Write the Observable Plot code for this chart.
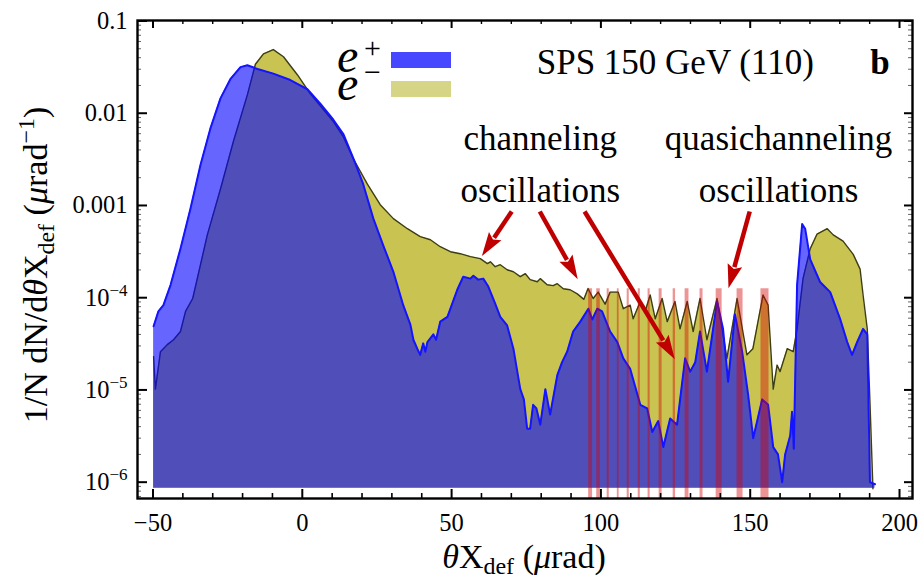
<!DOCTYPE html>
<html><head><meta charset="utf-8">
<script src="https://cdn.jsdelivr.net/npm/d3@7"></script>
<script src="https://cdn.jsdelivr.net/npm/@observablehq/plot@0.6"></script>
<style>body{margin:0;background:#fff}#chart{position:relative;width:918px;height:581px}</style>
</head><body><div id="chart"></div>
<script>
// e+ (positrons) distribution: angle (µrad) and 1/N dN/dθ (µrad^-1)
const ePosX = [-49.8,-48.2,-46.5,-44.1,-40.8,-37.5,-34.1,-30.8,-27.4,-24.1,-20.7,-18.4,-15.0,-9.7,-4.0,1.7,6.1,10.4,13.8,17.1,20.4,23.8,27.1,30.5,33.8,36.2,37.2,38.5,39.5,40.5,41.2,41.9,43.9,44.8,46.2,48.6,51.9,53.9,56.3,57.3,58.9,60.6,62.3,64.6,66.3,68.6,70.7,73.0,74.2,75.3,76.3,77.3,78.4,79.7,81.4,83.0,85.4,87.0,88.7,90.7,93.1,95.8,97.1,98.8,100.4,103.1,105.5,107.5,109.8,113.2,115.5,117.2,119.2,120.9,123.2,125.5,128.2,129.9,131.6,133.2,135.5,138.9,140.9,142.6,144.9,147.3,149.3,151.0,154.0,156.0,157.7,159.3,160.7,161.7,163.4,164.0,164.6,165.7,167.4,168.4,170.1,173.4,176.8,180.1,182.5,184.1,185.8,187.8,189.2,190.1,191.8];
const ePosY = [4.9e-5,7.1e-5,8.3e-5,1.38e-4,3.4e-4,9.1e-4,2.75e-3,6.8e-3,1.45e-2,2.34e-2,3.16e-2,3.31e-2,3.02e-2,2.69e-2,2.29e-2,1.82e-2,1.26e-2,8.5e-3,5.9e-3,3.24e-3,1.70e-3,7.2e-4,3.7e-4,1.91e-4,8.3e-5,5.1e-5,3.5e-5,2.8e-5,2.4e-5,3.2e-5,2.6e-5,3.3e-5,4.0e-5,3.5e-5,5.5e-5,6.2e-5,1.22e-4,1.69e-4,1.61e-4,1.73e-4,1.57e-4,1.61e-4,1.32e-4,8.6e-5,6.2e-5,5.0e-5,2.8e-5,1.02e-5,7.9e-6,3.8e-6,3.8e-6,6.9e-6,6.3e-6,4.2e-6,1.02e-5,5.4e-6,1.45e-5,2.0e-5,2.6e-5,4.3e-5,5.5e-5,7.6e-5,5.8e-5,7.6e-5,7.1e-5,4.3e-5,3.3e-5,2.2e-5,1.70e-5,6.9e-6,6.3e-6,3.5e-6,4.6e-6,2.4e-6,4.9e-6,4.2e-6,2.2e-5,1.58e-5,2.0e-5,4.3e-5,1.58e-5,9.1e-5,4.6e-5,1.23e-5,6.6e-5,2.6e-5,8.9e-6,3.0e-6,7.9e-6,6.9e-6,2.4e-6,2.0e-6,1.0e-6,2.0e-6,3.2e-6,5.8e-6,2.3e-6,1.38e-4,6.3e-4,5.6e-4,2.6e-4,1.48e-4,1.15e-4,5.9e-5,3.3e-5,2.4e-5,3.3e-5,4.6e-5,4.0e-5,1.0e-6,9.5e-7];
// e- (electrons) distribution
const eNegX = [-49.8,-49.2,-47.5,-45.2,-43.1,-40.8,-39.1,-36.7,-31.8,-27.4,-23.1,-18.4,-15.7,-13.0,-9.7,-6.3,-1.6,2.7,6.1,10.4,13.8,17.1,21.8,26.1,30.5,35.2,39.5,42.9,46.2,49.6,52.9,56.3,59.6,62.0,63.0,64.6,66.3,68.6,70.7,73.0,74.7,76.3,78.7,79.7,82.0,84.0,85.4,87.4,89.7,92.1,94.3,95.7,97.4,99.1,101.4,103.1,105.8,107.5,109.8,110.8,113.2,114.8,116.5,118.2,120.5,122.2,124.8,126.5,128.9,130.9,133.2,135.5,138.9,142.2,145.6,148.9,150.9,154.3,156.0,157.7,159.0,160.0,162.4,164.4,165.7,167.7,170.1,172.4,175.8,177.8,181.1,184.5,186.8,187.8,189.2,190.1,191.1];
const eNegY = [2.3e-5,1.02e-5,2.6e-5,3.1e-5,3.5e-5,4.3e-5,7.1e-5,9.8e-5,4.8e-4,1.51e-3,4.9e-3,1.58e-2,3.4e-2,4.4e-2,4.9e-2,4.1e-2,2.6e-2,1.62e-2,1.20e-2,8.1e-3,5.5e-3,3.2e-3,1.70e-3,1.02e-3,7.2e-4,5.6e-4,4.6e-4,4.25e-4,3.57e-4,3.15e-4,3.0e-4,2.79e-4,2.65e-4,2.34e-4,2.45e-4,2.17e-4,2.28e-4,2.01e-4,1.91e-4,1.69e-4,1.82e-4,1.57e-4,1.49e-4,1.61e-4,1.38e-4,1.35e-4,1.42e-4,1.25e-4,1.22e-4,1.10e-4,9.6e-5,1.26e-4,9.8e-5,1.15e-4,8.5e-5,1.15e-4,1.15e-4,7.6e-5,8.3e-5,5.9e-5,9.1e-5,7.1e-5,1.07e-4,5.9e-5,9.8e-5,5.5e-5,9.1e-5,4.6e-5,9.1e-5,4.3e-5,9.8e-5,3.5e-5,9.8e-5,2.2e-5,9.8e-5,2.4e-5,2.8e-5,1.07e-4,8.3e-5,1.02e-5,1.86e-5,1.58e-5,2.8e-5,2.6e-5,4.6e-5,1.62e-4,3.4e-4,4.9e-4,5.6e-4,4.8e-4,4.1e-4,2.95e-4,2.04e-4,1.07e-4,4.6e-5,7.4e-6,8.5e-7];
// channeling-oscillation bands (µrad)
const bandX1 = [95.9,98.6,102.1,105.5,108.8,112.5,115.8,119.5,124.2,128.2,133.2,138.6,145.6,153.6];
const bandX2 = [97.2,99.8,102.8,106.1,109.5,113.2,116.5,120.5,125.0,129.5,134.2,140.6,147.6,156.3];
const bandTop = 1.25e-4;
const fillFloor = 8.6e-7;
// annotation arrows (tail -> tip), in data units
const arrowX1 = [70.3,79.7,94.7,150.0];
const arrowY1 = [8.5e-4,8.5e-4,8.5e-4,8.5e-4];
const arrowX2 = [60.3,92.4,124.9,142.9];
const arrowY2 = [2.79e-4,1.57e-4,2.13e-5,1.25e-4];
// text annotations
const noteText = ["SPS 150 GeV (110)","channeling","oscillations","quasichanneling","oscillations"];
const noteX = [124.9,79.7,79.7,159.5,159.5];
const noteY = [3.5e-2,5.25e-3,1.43e-3,5.25e-3,1.43e-3];
// axes
const xMajorTicks = [-50,0,50,100,150,200];
const xMinorTicks = [-40,-30,-20,-10,10,20,30,40,60,70,80,90,110,120,130,140,160,170,180,190];
const yMajorTicks = [1e-6,1e-5,1e-4,1e-3,1e-2,1e-1];
const yTickLabels = ["10^−6","10^−5","10^−4","0.001","0.01","0.1"];
const yMinorTicks = [];
for (let d = -7; d <= -2; d++) for (let m = 2; m <= 9; m++) yMinorTicks.push(m * Math.pow(10, d));

const W = 918, H = 581, mL = 137, mR = 6, mT = 20, mB = 83;
const plotW = W - mL - mR, plotH = H - mT - mB;
const yDom = [Math.pow(10, -6.177), Math.pow(10, -0.9946)];
const FONT = "'Liberation Serif','Times New Roman',serif";

const pos = ePosX.map((x, i) => ({x, y: ePosY[i]}));
const neg = eNegX.map((x, i) => ({x, y: eNegY[i]}));
const bands = bandX1.map((x1, i) => ({x1, x2: bandX2[i]}));
const arrows = arrowX1.map((x1, i) => ({x1, y1: arrowY1[i], x2: arrowX2[i], y2: arrowY2[i]}));
const notes = noteText.map((t, i) => ({t, x: noteX[i], y: noteY[i]}));
const yMinorIn = yMinorTicks.filter(v => v > yDom[0] && v < yDom[1]);

function arrowMark(index, scales) {
  const sx = typeof scales.x === "function" ? scales.x : scales.scales.x.apply;
  const sy = typeof scales.y === "function" ? scales.y : scales.scales.y.apply;
  const g = d3.create("svg:g").attr("aria-label", "arrows");
  for (const a of arrows) {
    const x1 = sx(a.x1), y1 = sy(a.y1), x2 = sx(a.x2), y2 = sy(a.y2);
    const dx = x2 - x1, dy = y2 - y1, len = Math.hypot(dx, dy), ux = dx / len, uy = dy / len;
    const hl = 24, hw = 7.5;
    const bx = x2 - ux * hl, by = y2 - uy * hl;
    g.append("line").attr("x1", x1).attr("y1", y1).attr("x2", bx + ux * 2).attr("y2", by + uy * 2)
      .attr("stroke", "#c00000").attr("stroke-width", 4.5);
    g.append("path").attr("d", `M${x2},${y2}L${bx - uy * hw},${by + ux * hw}L${bx + ux * 4},${by + uy * 4}L${bx + uy * hw},${by - ux * hw}Z`)
      .attr("fill", "#c00000");
  }
  return g.node();
}

const svg = Plot.plot({
  width: W, height: H, marginLeft: mL, marginRight: mR, marginTop: mT, marginBottom: mB,
  style: {fontFamily: FONT, fontSize: "24px", background: "white", color: "black"},
  x: {domain: [-55.19, 204.35], label: null},
  y: {type: "log", domain: yDom, label: null},
  marks: [
    Plot.areaY(neg, {x: "x", y1: fillFloor, y2: "y", fill: "#c9c452"}),
    Plot.lineY(neg, {x: "x", y: "y", stroke: "#3d3d14", strokeWidth: 1.4}),
    Plot.areaY(pos, {x: "x", y1: fillFloor, y2: "y", fill: "#0000ff", fillOpacity: 0.6}),
    Plot.lineY(pos, {x: "x", y: "y", stroke: "#1414ff", strokeWidth: 2}),
    Plot.rect(bands, {x1: "x1", x2: "x2", y1: yDom[0], y2: bandTop, fill: "#d40000", fillOpacity: 0.42}),
    arrowMark,
    Plot.text(notes.slice(0, 1), {x: "x", y: "y", text: "t", fontSize: 35, fill: "black"}),
    Plot.text(notes.slice(1), {x: "x", y: "y", text: "t", fontSize: 35, fill: "black"}),
    Plot.text(["b"], {x: 193.5, y: 3.5e-2, text: d => d, fontSize: 35, fontWeight: "bold", fill: "black"}),
    // inward frame ticks
    Plot.tickX(xMajorTicks, {x: d => d, insetTop: plotH - 9, stroke: "black", strokeWidth: 2}),
    Plot.tickX(xMinorTicks, {x: d => d, insetTop: plotH - 5, stroke: "black", strokeWidth: 1.6}),
    Plot.tickX(xMajorTicks, {x: d => d, insetBottom: plotH - 8, stroke: "black", strokeWidth: 2}),
    Plot.tickX(xMinorTicks, {x: d => d, insetBottom: plotH - 4, stroke: "black", strokeWidth: 1.4}),
    Plot.tickY(yMajorTicks, {y: d => d, insetRight: plotW - 10, stroke: "black", strokeWidth: 2}),
    Plot.tickY(yMinorIn, {y: d => d, insetRight: plotW - 4, stroke: "#666", strokeWidth: 1}),
    Plot.tickY(yMajorTicks, {y: d => d, insetLeft: plotW - 8, stroke: "black", strokeWidth: 2}),
    Plot.tickY(yMinorIn, {y: d => d, insetLeft: plotW - 4, stroke: "#666", strokeWidth: 1}),
    Plot.frame({stroke: "black", strokeWidth: 2.4}),
    Plot.axisX({ticks: xMajorTicks, tickSize: 0, tickPadding: 15, fontSize: 24.5, label: null}),
    Plot.axisY({ticks: yMajorTicks, tickSize: 0, tickPadding: 10, fontSize: 24.5, label: null,
      tickFormat: d => yTickLabels[yMajorTicks.findIndex(t => Math.abs(t - d) / t < 1e-6)]})
  ]
});

const s = d3.select(svg);
// superscripts in y tick labels
s.selectAll('[aria-label="y-axis tick label"] text').each(function () {
  const t = this.textContent;
  if (t.includes("^")) {
    const [b, e] = t.split("^");
    this.textContent = "";
    d3.select(this).append("tspan").text(b);
    d3.select(this).append("tspan").attr("dy", -10).attr("font-size", 17).text(e);
  }
});

function richText(attrs, parts) {
  const t = s.append("text").attr("font-family", FONT).attr("fill", "black");
  for (const k in attrs) t.attr(k, attrs[k]);
  for (const p of parts) {
    const ts = t.append("tspan").text(p.t);
    if (p.it) ts.attr("font-style", "italic");
    if (p.fs) ts.attr("font-size", p.fs);
    if (p.dy) ts.attr("dy", p.dy);
  }
  return t;
}
// x axis label
richText({x: 524, y: 568, "text-anchor": "middle", "font-size": 34}, [
  {t: "θ", it: true}, {t: "X"}, {t: "def", fs: 24, dy: 6}, {t: " (", dy: -6}, {t: "μ", it: true}, {t: "rad)"}
]);
// y axis label
richText({transform: "translate(47,265) rotate(-90)", "text-anchor": "middle", "font-size": 34}, [
  {t: "1/N dN/d"}, {t: "θ", it: true}, {t: "X"}, {t: "def", fs: 24, dy: 7}, {t: " (", dy: -7},
  {t: "μ", it: true}, {t: "rad"}, {t: "−1", fs: 24, dy: -13}, {t: ")", dy: 13}
]);
// legend
const leg = s.append("g").attr("aria-label", "legend");
richText({x: 337, y: 72, "font-size": 48, "text-anchor": "start"}, [{t: "e", it: true}]);
richText({x: 364, y: 58, "font-size": 30, "text-anchor": "start"}, [{t: "+"}]);
richText({x: 337, y: 100, "font-size": 48, "text-anchor": "start"}, [{t: "e", it: true}]);
richText({x: 364, y: 82, "font-size": 30, "text-anchor": "start"}, [{t: "−"}]);
leg.append("rect").attr("x", 391).attr("y", 52).attr("width", 60).attr("height", 16).attr("fill", "#4747ff");
leg.append("rect").attr("x", 391).attr("y", 81).attr("width", 60).attr("height", 16).attr("fill", "#d6d585");

document.getElementById("chart").appendChild(svg);
</script>
</body></html>
